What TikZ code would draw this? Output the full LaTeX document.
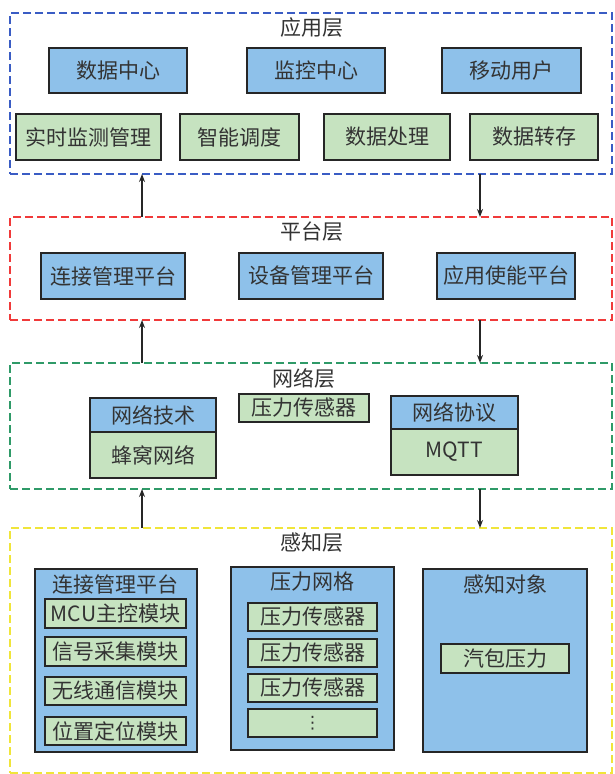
\documentclass[tikz,border=0pt]{standalone}
\usepackage{fontspec}
\setmainfont{Noto Sans CJK SC}
\newfontfamily\djv{DejaVu Sans}
\usetikzlibrary{arrows.meta}
\definecolor{bfill}{HTML}{8EC1EA}
\definecolor{gfill}{HTML}{C6E3C0}
\definecolor{txt}{HTML}{333333}
\definecolor{cblue}{HTML}{3A5CC4}
\definecolor{cred}{HTML}{F03A3A}
\definecolor{cgreen}{HTML}{2F9A68}
\definecolor{cyellow}{HTML}{F0E53A}
\begin{document}
\begin{tikzpicture}[x=1pt,y=-1pt,
  every node/.style={font=\fontsize{21}{24}\selectfont, text=txt, inner sep=0pt, outer sep=0pt},
  frame/.style={draw=#1, line width=1.6pt, dash pattern=on 8pt off 4pt, fill=none},
  bbox/.style={draw=black!85, line width=1.8pt, fill=bfill},
  gbox/.style={draw=black!85, line width=1.8pt, fill=gfill},
  title/.style={font=\fontsize{21}{24}\selectfont},
  arr/.style={draw=black!85, line width=1.5pt, -{Stealth[length=8pt,width=6pt]}}
]
\useasboundingbox[fill=white] (0,0) rectangle (615,774);
% layer frames
\node[frame=cblue, minimum width=602pt, minimum height=161pt] (app) at (311,93.5) {};
\node[frame=cred, minimum width=602pt, minimum height=103pt] (plat) at (311,268.5) {};
\node[frame=cgreen, minimum width=602pt, minimum height=126pt] (net) at (311,426) {};
\node[frame=cyellow, minimum width=602pt, minimum height=245pt] (sen) at (311,650.5) {};
% titles
\node[title] (tapp) at (312,28) {应用层};
\node[title] (tplat) at (312,232) {平台层};
\node[title] (tnet) at (304,378) {网络层};
\node[title] (tsen) at (312,543) {感知层};
% application layer
\node[bbox, minimum width=138pt, minimum height=45pt] (dc) at (118,70.5) {数据中心};
\node[bbox, minimum width=138pt, minimum height=45pt] (mc) at (316,70.5) {监控中心};
\node[bbox, minimum width=139pt, minimum height=45pt] (mu) at (511.5,70.5) {移动用户};
\node[gbox, minimum width=145pt, minimum height=46pt] (rt) at (88.5,137) {实时监测管理};
\node[gbox, minimum width=119pt, minimum height=46pt] (zn) at (239.5,137) {智能调度};
\node[gbox, minimum width=126pt, minimum height=46pt] (sj) at (387,137) {数据处理};
\node[gbox, minimum width=128pt, minimum height=46pt] (zc) at (534,137) {数据转存};
% platform layer
\node[bbox, minimum width=144pt, minimum height=46pt] (lj) at (113,276) {连接管理平台};
\node[bbox, minimum width=144pt, minimum height=46pt] (sb) at (311,276) {设备管理平台};
\node[bbox, minimum width=138pt, minimum height=46pt] (yy) at (506,276) {应用使能平台};
% network layer
\node[bbox, minimum width=126pt, minimum height=34pt] (wj) at (153,415) {网络技术};
\node[gbox, minimum width=126pt, minimum height=46pt, anchor=north] (fw) at (wj.south) {蜂窝网络};
\node[gbox, minimum width=130pt, minimum height=28pt] (yl) at (304,408) {压力传感器};
\node[bbox, minimum width=127pt, minimum height=33pt] (xy) at (454.5,412.5) {网络协议};
\node[gbox, minimum width=127pt, minimum height=46pt, anchor=north] (mq) at (xy.south) {MQTT};
% perception layer
\node[bbox, minimum width=162pt, minimum height=183pt] (c1) at (115.75,660.5) {};
\node (c1t) at (115.75,584) {连接管理平台};
\node[gbox, minimum width=141pt, minimum height=29pt] (m1) at (115.5,613.5) {MCU主控模块};
\node[gbox, minimum width=141pt, minimum height=29pt] (m2) at (115.5,651.5) {信号采集模块};
\node[gbox, minimum width=141pt, minimum height=28pt] (m3) at (115.5,691) {无线通信模块};
\node[gbox, minimum width=141pt, minimum height=28pt] (m4) at (115.5,731) {位置定位模块};
\node[bbox, minimum width=163pt, minimum height=183pt] (c2) at (312.5,658.5) {};
\node (c2t) at (312.5,582) {压力网格};
\node[gbox, minimum width=129pt, minimum height=28pt] (p1) at (312.5,617) {压力传感器};
\node[gbox, minimum width=129pt, minimum height=28pt] (p2) at (312.5,653) {压力传感器};
\node[gbox, minimum width=129pt, minimum height=28pt] (p3) at (312.5,688) {压力传感器};
\node[gbox, minimum width=129pt, minimum height=28pt, font=\djv\fontsize{17}{17}\selectfont] (p4) at (312.5,723) {⋮};
\node[bbox, minimum width=164pt, minimum height=183pt] (c3) at (505,660.5) {};
\node (c3t) at (505,584) {感知对象};
\node[gbox, minimum width=128pt, minimum height=29pt] (qb) at (505,658.5) {汽包压力};
% connectors
\coordinate (L) at (142,0);
\coordinate (R) at (480,0);
\draw[arr] (plat.north -| L) -- (app.south -| L);
\draw[arr] (app.south -| R) -- (plat.north -| R);
\draw[arr] (net.north -| L) -- (plat.south -| L);
\draw[arr] (plat.south -| R) -- (net.north -| R);
\draw[arr] (sen.north -| L) -- (net.south -| L);
\draw[arr] (net.south -| R) -- (sen.north -| R);
\end{tikzpicture}
\end{document}
